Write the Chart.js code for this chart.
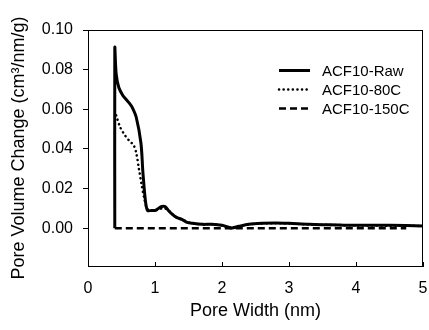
<!DOCTYPE html>
<html><head><meta charset="utf-8">
<script src="https://cdn.jsdelivr.net/npm/chart.js@4"></script>
<style>html,body{margin:0;padding:0;background:#fff}#w{width:429px;height:330px}</style>
</head><body><div id="w"><canvas id="c"></canvas></div>
<script>
const seriesNames = ['ACF10-Raw', 'ACF10-80C', 'ACF10-150C'];
const rawX = [0.40,0.40,0.42,0.46,0.52,0.57,0.62,0.66,0.72,0.79,0.82,0.86,0.89,0.95,1.00,1.05,1.10,1.15,1.20,1.26,1.32,1.40,1.48,1.56,1.70,1.85,2.00,2.10,2.15,2.25,2.40,2.60,2.80,3.00,3.30,3.60,4.00,4.50,5.00];
const rawY = [0,0.091,0.078,0.071,0.067,0.065,0.063,0.061,0.056,0.043,0.028,0.013,0.009,0.009,0.009,0.010,0.011,0.011,0.009,0.007,0.0055,0.0045,0.003,0.0025,0.002,0.002,0.0015,0.0005,0.0002,0.001,0.002,0.0025,0.0027,0.0025,0.002,0.0018,0.0015,0.0015,0.0012];
const c80X = [0.42,0.48,0.55,0.62,0.68,0.72,0.76,0.80,0.84,0.88,0.92,1.00,1.10,1.15,1.20,1.30,1.40,1.56,1.85,2.00,2.15,2.40,2.80,3.30,4.00,5.00];
const c80Y = [0.057,0.051,0.047,0.044,0.042,0.038,0.030,0.022,0.015,0.010,0.009,0.009,0.010,0.010,0.009,0.006,0.0045,0.0025,0.002,0.0015,0.0002,0.002,0.0026,0.002,0.0015,0.0012];
const c150X = [0.40,1.00,2.00,3.00,4.00,4.75];
const c150Y = [0,0,0,0,0,0];
const xTicks = [0,1,2,3,4,5];
const yTicks = [0,0.02,0.04,0.06,0.08,0.10];

const pts = (xs, ys) => xs.map((x, i) => ({x, y: ys[i]}));
const FONT = 'Liberation Sans, Arial, sans-serif';

const boxPlugin = {
  id: 'box',
  afterDraw(chart) {
    const {ctx, chartArea: a, scales} = chart;
    ctx.save();
    ctx.strokeStyle = '#000'; ctx.lineWidth = 1;
    ctx.strokeRect(a.left + 0.5, a.top + 0.5, a.right - a.left - 1, a.bottom - a.top);
    xTicks.forEach(v => {
      const px = Math.round(scales.x.getPixelForValue(v)) + 0.5;
      ctx.beginPath(); ctx.moveTo(px, a.bottom); ctx.lineTo(px, a.bottom - 4); ctx.stroke();
    });
    ctx.font = '15px ' + FONT;
    ctx.fillStyle = '#000';
    ctx.textBaseline = 'middle';
    chart.data.datasets.forEach((ds, i) => {
      const y = 70.5 + i * 19;
      ctx.beginPath();
      ctx.lineWidth = ds.borderWidth;
      ctx.setLineDash(ds.borderDash || []);
      ctx.lineCap = ds.borderCapStyle || 'butt';
      ctx.moveTo(279, y); ctx.lineTo(310, y); ctx.stroke();
      ctx.setLineDash([]);
      ctx.fillText(ds.label, 322, y + 1);
    });
    ctx.restore();
  }
};

new Chart(document.getElementById('c'), {
  type: 'line',
  data: {
    datasets: [
      {label: seriesNames[0], data: pts(rawX, rawY), borderColor: '#000', borderWidth: 3, pointRadius: 0, tension: 0.3, order: 2},
      {label: seriesNames[1], data: pts(c80X, c80Y), borderColor: '#000', borderWidth: 2.5, borderDash: [0.1, 4.5], borderCapStyle: 'round', pointRadius: 0, tension: 0.3, order: 3},
      {label: seriesNames[2], data: pts(c150X, c150Y), borderColor: '#000', borderWidth: 2.5, borderDash: [7, 4], pointRadius: 0, tension: 0, order: 1}
    ]
  },
  options: {
    responsive: true, maintainAspectRatio: false, animation: false,
    layout: {padding: {left: 0, right: 6, top: 30, bottom: 4}},
    plugins: {legend: {display: false}, tooltip: {enabled: false}},
    scales: {
      x: {
        type: 'linear', min: 0, max: 5,
        afterBuildTicks: s => { s.ticks = xTicks.map(v => ({value: v})); },
        afterFit: s => { s.height = 60; s.paddingRight = 0; s.paddingLeft = 0; },
        grid: {display: false, drawTicks: false},
        border: {color: '#000', width: 1},
        ticks: {color: '#000', font: {family: FONT, size: 16}, padding: 13, maxRotation: 0, callback: v => String(v)},
        title: {display: true, text: 'Pore Width (nm)', color: '#000', font: {family: FONT, size: 18}, padding: {top: 0, bottom: 4}}
      },
      y: {
        type: 'linear', min: -0.019, max: 0.10,
        afterBuildTicks: s => { s.ticks = yTicks.map(v => ({value: v})); },
        afterFit: s => { s.width = 88; },
        grid: {drawOnChartArea: false, drawTicks: true, tickLength: 5, color: '#000'},
        border: {color: '#000', width: 1},
        ticks: {color: '#000', font: {family: FONT, size: 16}, padding: 10, callback: v => v.toFixed(2)},
        title: {display: true, text: 'Pore Volume Change (cm³/nm/g)', color: '#000', font: {family: FONT, size: 18}, padding: {top: 8, bottom: 0}}
      }
    }
  },
  plugins: [boxPlugin]
});
</script></body></html>
